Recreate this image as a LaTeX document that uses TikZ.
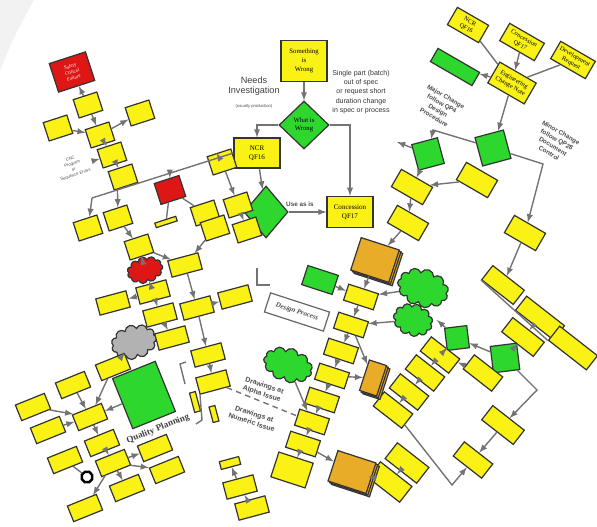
\documentclass[tikz,border=0pt]{standalone}
\usepackage{fontspec}
\setmainfont{Liberation Serif}
\setsansfont{Liberation Sans}
\usetikzlibrary{arrows,positioning,calc,shapes.geometric,shapes.symbols,shadows}
\definecolor{flowYellow}{RGB}{250,242,20}
\definecolor{flowGreen}{RGB}{45,215,45}
\definecolor{flowRed}{RGB}{222,22,22}
\definecolor{flowOrange}{RGB}{232,172,40}

\begin{document}
\begin{tikzpicture}[x=0.025cm, y=-0.025cm,
        every node/.style={align=center, line width=0.15mm},
        yBox/.style={
                draw=black!80, fill=flowYellow, line width=0.3mm,
                minimum width=0.9cm, minimum height=0.5cm,
                inner sep=0.5pt, font=\fontsize{4.5}{5.5}\selectfont
            },
        smallBox/.style={yBox, minimum width=0.62cm, minimum height=0.48cm},
        flatBox/.style={yBox, minimum width=0.78cm, minimum height=0.42cm},
        gBox/.style={yBox, fill=flowGreen},
        rBox/.style={yBox, fill=flowRed, text=white, minimum width=0.95cm, minimum height=0.75cm},
        oBox/.style={yBox, fill=flowOrange,
                double copy shadow={shadow xshift=1.2pt, shadow yshift=-1.2pt}},
        wBox/.style={draw=black!60, fill=white, line width=0.3mm,
                minimum width=1.55cm, minimum height=0.5cm,
                font=\bfseries\itshape\fontsize{5}{6}\selectfont, text=black!70},
        gDiamond/.style={
                draw=black!80, fill=flowGreen, shape=diamond, line width=0.3mm,
                inner sep=0pt, minimum width=0.9cm, minimum height=0.9cm,
                font=\fontsize{4.5}{5.5}\selectfont
            },
        puff/.style={draw=black!80, fill=flowGreen, shape=cloud, cloud puffs=11, aspect=1.6,
                line width=0.3mm, minimum width=1.2cm, minimum height=0.85cm},
        conn/.style={draw=black!55, line width=0.35mm, -latex},
        wire/.style={draw=black!55, line width=0.35mm},
        note/.style={font=\sffamily\bfseries\fontsize{4.5}{5.6}\selectfont, text=black!70}
    ]
    \useasboundingbox (0,0) rectangle (597,526);
    \fill[black!5] (0,0) -- (34,0) .. controls (20,25) and (8,48) .. (0,72) -- cycle;

    % Something is wrong
    \node[yBox, font=\fontsize{4.8}{6.5}\selectfont, minimum width=1.15cm, minimum height=1.02cm] (wrong) at (304,61) {Something\\is\\Wrong};
    \node[gDiamond, minimum width=1.25cm, minimum height=1.2cm, font=\fontsize{4.8}{6}\selectfont] (what) at (304,125) {What is\\Wrong};
    \node[yBox, font=\fontsize{5}{6.5}\selectfont, minimum width=1.15cm, minimum height=0.75cm] (ncrA) at (257,153) {NCR\\QF16};
    \node[yBox, font=\fontsize{5}{6.5}\selectfont, minimum width=1.15cm, minimum height=0.78cm] (conc) at (350,212) {Concession\\QF17};
    \node[font=\sffamily\fontsize{6.5}{7.5}\selectfont, text=black!75] (needs) at (254,86) {Needs\\Investigation};
    \node[font=\sffamily\fontsize{3}{3.5}\selectfont, text=black!70] (usual) at (254,106) {(usually production)};
    \node[font=\sffamily\fontsize{5}{6.6}\selectfont, text=black!80] (single) at (361,92) {Single part (batch)\\out of spec\\or request short\\duration change\\in spec or process};
    \node[gDiamond, minimum width=1.1cm, minimum height=1.3cm] (useD) at (266,212) {};

    \draw[conn] (wrong) -- (what);
    \draw[conn] (what.west) -| (ncrA.north);
    \draw[conn] (what.east) -| (conc.north);
    \draw[conn] (ncrA) -- (useD);
    \draw[conn] (useD.east) -- node[note, above, pos=0.3] {Use as is} (conc.west);

    % Top right: change requests
    \begin{scope}[every node/.append style={rotate=-30}]
        \node[yBox, minimum width=0.9cm] (ncrB) at (468,25) {NCR\\QF16};
        \node[yBox, minimum width=1.0cm] (concB) at (522,42) {Concession\\QF17};
        \node[yBox, minimum width=1.0cm] (devReq) at (573,60) {Development\\Request};
        \node[gBox, minimum width=1.2cm, minimum height=0.38cm] (logS) at (455,67) {};
        \node[yBox, minimum width=1.05cm, minimum height=0.6cm] (ecn) at (512,83) {Engineering\\Change Note};
        \node[gDiamond, minimum width=1.05cm, minimum height=1.05cm] (testD) at (493,148) {};
        \node[gDiamond, minimum width=0.95cm, minimum height=0.95cm] (leftD) at (428,154) {};
        \node[yBox] (dPlan) at (412,187) {};
        \node[yBox] (jobN) at (477,180) {};
        \node[yBox] (devl) at (408,223) {};
        \node[yBox] (upd) at (525,233) {};
        \node[note] (major) at (440,107) {Major Change\\follow QP4\\Design\\Procedure};
        \node[note] (minor) at (555,143) {Minor Change\\follow QP28\\Document\\Control};
    \end{scope}
    \coordinate (kneeT) at (433,130);
    \coordinate (outL) at (397,142);
    \coordinate (kneeR) at (543,164);
    \draw[wire] (ncrB) -- (ecn);
    \draw[wire] (devReq) -- (ecn);
    \draw[conn] (concB) -- (ecn);
    \draw[conn] (ecn) -- (logS);
    \draw[conn] (ecn) -- (testD);
    \draw[conn] (testD) -- (kneeT) -- (leftD);
    \draw[conn] (leftD) -- (outL);
    \draw[conn] (leftD) -- (dPlan);
    \draw[conn] (jobN) -- (dPlan);
    \draw[conn] (dPlan) -- (devl);
    \draw[conn] (testD) -- (kneeR) -- (upd);

    % Right: document control branch
    \begin{scope}[every node/.append style={rotate=-38}]
        \node[yBox, minimum width=1.0cm, minimum height=0.45cm] (s1) at (503,285) {};
        \node[yBox, minimum width=1.2cm, minimum height=0.45cm] (s2) at (540,318) {};
        \node[yBox, minimum width=1.0cm, minimum height=0.45cm] (s3) at (523,337) {};
        \node[yBox, minimum width=1.2cm, minimum height=0.45cm] (s4) at (573,348) {};
        \node[gDiamond, minimum width=0.95cm, minimum height=0.95cm] (dR) at (505,358) {};
        \node[gDiamond, minimum width=0.8cm, minimum height=0.8cm] (dL) at (457,338) {};
        \node[yBox, minimum width=0.9cm, minimum height=0.45cm] (s5) at (483,373) {};
        \node[yBox, minimum width=0.9cm, minimum height=0.45cm] (r1) at (440,355) {};
        \node[yBox, minimum width=0.9cm, minimum height=0.45cm] (r2) at (425,373) {};
        \node[yBox, minimum width=0.9cm, minimum height=0.45cm] (r3) at (409,392) {};
        \node[yBox, minimum width=0.9cm, minimum height=0.45cm] (r4) at (393,410) {};
        \node[yBox, minimum width=1.0cm, minimum height=0.45cm] (s6) at (503,425) {};
        \node[yBox, minimum width=0.9cm, minimum height=0.45cm] (s7) at (473,460) {};
        \node[yBox, minimum width=1.0cm, minimum height=0.5cm] (r5) at (407,463) {};
        \node[yBox, minimum width=1.0cm, minimum height=0.5cm] (r6) at (390,482) {};
    \end{scope}
    \coordinate (outD) at (437,320);
    \coordinate (kneeS) at (537,390);
    \coordinate (kneeB) at (452,485);
    \draw[conn] (upd) -- (s1);
    \draw[wire] (s1.south west) -- (s4.south west);
    \draw[conn] (s2) -- (s3);
    \draw[conn] (s3) -- (dR);
    \draw[conn] (dR) -- (dL);
    \draw[conn] (dL) -- (outD);
    \draw[conn] (dL) -- (r1);
    \draw[conn] (s5) -- (r1);
    \draw[conn] (r1) -- (r2);
    \draw[conn] (r2) -- (r3);
    \draw[conn] (r3) -- (r4);
    \draw[conn] (dR) -- (kneeS) -- (s6);
    \draw[conn] (s6) -- (s7);
    \draw[conn] (r4) -- (kneeB) -- (s7);
    \draw[conn] (r5) -- (r6);

    % Middle: design process
    \begin{scope}[every node/.append style={rotate=-18}]
        \node[oBox, minimum width=1.0cm, minimum height=0.85cm] (books1) at (375,260) {};
        \node[gBox, minimum width=0.8cm] (gm1) at (320,280) {};
        \node[wBox] (dProc) at (297,312) {Design Process};
        \node[flatBox] (n1) at (361,297) {};
        \node[puff, minimum width=1.3cm, minimum height=0.95cm] (gc1) at (423,288) {};
        \node[puff, minimum width=1.0cm, minimum height=0.8cm] (gc2) at (413,320) {};
        \node[flatBox] (n2) at (351,325) {};
        \node[flatBox] (n3) at (341,351) {};
        \node[puff, minimum width=1.25cm, minimum height=0.85cm] (gc3) at (288,365) {};
        \node[flatBox] (n4) at (332,376) {};
        \node[oBox, minimum width=0.45cm, minimum height=0.8cm] (books2) at (373,378) {};
        \node[flatBox] (n5) at (322,400) {};
        \node[flatBox] (n6) at (312,422) {};
        \node[flatBox] (n7) at (303,444) {};
        \node[flatBox, minimum width=0.9cm, minimum height=0.65cm] (n8) at (292,470) {};
        \node[oBox, minimum width=1.0cm, minimum height=0.8cm] (books3) at (352,472) {};
        \node[note, font=\sffamily\bfseries\fontsize{5}{6.2}\selectfont] (alpha) at (263,390) {Drawings at\\Alpha Issue};
        \node[note, font=\sffamily\bfseries\fontsize{5}{6.2}\selectfont] (numeric) at (253,418) {Drawings at\\Numeric Issue};
    \end{scope}
    \draw[wire] (257,268) -- (257,285) -- (270,285);
    \draw[conn] (devl) -- (books1);
    \draw[conn] (books1) -- (n1);
    \draw[conn] (gm1) -- (n1);
    \draw[conn] (gc1) -- (n1);
    \draw[conn] (gc2) -- (n2);
    \draw[conn] (n1) -- (n2);
    \draw[conn] (n2) -- (n3);
    \draw[conn] (n3) -- (n4);
    \draw[conn] (n4) -- (n5);
    \draw[conn] (n5) -- (n6);
    \draw[conn] (n6) -- (n7);
    \draw[conn] (n7) -- (n8);
    \draw[conn] (n2) -- (books2);
    \draw[conn] (n4) -- (books2);
    \draw[conn] (gc3) -- (n6);
    \draw[conn] (n7) -- (books3);
    \draw[conn] (books3) -- (r6);

    % Left: safety critical branch
    \begin{scope}[every node/.append style={rotate=18}]
        \node[rBox, font=\fontsize{3.5}{4.2}\selectfont] (safety) at (72,72) {Safety\\Critical\\Failure};
        \node[smallBox] (l1) at (88,105) {};
        \node[smallBox] (l2) at (58,128) {};
        \node[smallBox] (l3) at (100,135) {};
        \node[smallBox] (l4) at (140,113) {};
        \node[note, font=\sffamily\fontsize{3}{4}\selectfont] (cnc) at (73,167) {CNC\\Program\\or\\Sequence Errors};
        \node[smallBox] (l5) at (112,155) {};
        \node[smallBox] (l6) at (123,177) {};
        \node[smallBox] (l7) at (88,228) {};
        \node[smallBox] (l8) at (118,218) {};
        \node[smallBox] (l9) at (139,247) {};
        \node[rBox, minimum width=0.65cm, minimum height=0.55cm] (redB) at (170,190) {};
        \node[smallBox] (l10) at (205,213) {};
        \node[smallBox] (l11) at (215,228) {};
        \node[smallBox] (l12) at (222,162) {};
        \node[smallBox] (l13) at (238,205) {};
        \node[smallBox] (l14) at (247,230) {};
        \node[yBox, minimum width=0.55cm, minimum height=0.12cm] (sliver) at (166,222) {};
    \end{scope}
    \coordinate (barL) at (92,198);
    \draw[wire] (barL) -- (ncrA.west);
    \draw[conn] (l1) -- (safety);
    \draw[conn] (l1) -- (l3);
    \draw[conn] (l2) -- (l3);
    \draw[conn] (l3) -- (l4);
    \draw[conn] (l3) -- (l5);
    \draw[conn] (cnc) -- (l5);
    \draw[conn] (l5) -- (l6);
    \draw[wire] (l6) -- ($(barL)!0.22!(ncrA.west)$);
    \draw[conn] (barL) -- (l7);
    \draw[conn] ($(barL)!0.18!(ncrA.west)$) -- (l8);
    \draw[conn] ($(barL)!0.55!(ncrA.west)$) -- (redB);
    \draw[conn] ($(barL)!0.9!(ncrA.west)$) -- (l12);
    \draw[wire] (redB) -- (sliver);
    \draw[wire] (redB) -- (l10);
    \draw[conn] (l12) -- (l13);
    \draw[conn] (l13) -- (l14);
    \draw[conn] (l8) -- (l9);

    % Lower left: production and quality planning
    \begin{scope}[every node/.append style={rotate=15}]
        \node[puff, fill=flowRed, minimum width=0.9cm, minimum height=0.65cm] (redCloud) at (145,270) {};
        \node[flatBox] (l15) at (185,265) {};
        \node[flatBox] (m1) at (153,292) {};
        \node[flatBox] (m2) at (113,303) {};
        \node[flatBox] (m3) at (160,315) {};
        \node[flatBox] (m4) at (197,308) {};
        \node[flatBox] (m5) at (235,297) {};
        \node[puff, fill=black!30, minimum width=1.15cm, minimum height=0.85cm] (grayCloud) at (134,342) {};
        \node[flatBox] (m6) at (172,338) {};
        \node[flatBox] (m7) at (208,355) {};
        \node[flatBox] (m8) at (213,382) {};
        \node[yBox, minimum width=0.15cm, minimum height=0.5cm] (bit1) at (195,402) {};
        \node[yBox, minimum width=0.15cm, minimum height=0.4cm] (bit2) at (214,414) {};
        \node[yBox, minimum width=0.5cm, minimum height=0.2cm] (tri) at (230,463) {};
        \node[flatBox] (q12) at (240,487) {};
        \node[flatBox] (q13) at (252,508) {};
    \end{scope}
    \draw[wire] (186,362) -- (180,364) -- (185,384);
    \draw[wire] (200,395) -- (202,420) -- (196,424);
    \draw[conn] (l9) -- (redCloud);
    \draw[conn] (l11) -- (l15);
    \draw[conn] (l9) -- (l15);
    \draw[conn] (m1) -- (redCloud);
    \draw[conn] (m1) -- (m2);
    \draw[conn] (m1) -- (m3);
    \draw[conn] (l15) -- (m4);
    \draw[conn] (m4) -- (m5);
    \draw[conn] (m4) -- (m7);
    \draw[conn] (m7) -- (m8);
    \draw[conn] (m3) -- (m6);
    \draw[conn] (q12) -- (tri);
    \draw[conn] (q13) -- (q12);
    \draw[wire, dashed, dash pattern=on 4pt off 3pt] (m8) -- (n6);

    \begin{scope}[every node/.append style={rotate=22}]
        \node[flatBox] (m9) at (113,367) {};
        \node[gBox, minimum width=1.15cm, minimum height=1.35cm] (qpG) at (144,395) {};
        \node[font=\bfseries\fontsize{6.5}{7.5}\selectfont, text=black!75] (qpText) at (158,429) {Quality Planning};
        \node[flatBox] (q1) at (73,385) {};
        \node[flatBox] (q2) at (33,407) {};
        \node[flatBox] (q3) at (90,417) {};
        \node[flatBox] (q4) at (48,430) {};
        \node[flatBox] (q5) at (102,443) {};
        \node[flatBox] (q6) at (65,460) {};
        \node[flatBox] (q7) at (113,463) {};
        \node[flatBox] (q8) at (155,448) {};
        \node[flatBox] (q9) at (167,470) {};
        \node[flatBox] (q10) at (127,488) {};
        \node[flatBox] (q11) at (85,508) {};
        \node[draw, circle, line width=0.6mm, minimum size=0.28cm, inner sep=0pt] (recyc) at (87,477) {};
    \end{scope}
    \draw[conn] (grayCloud) -- (m9);
    \draw[conn] (m9) -- (q3);
    \draw[conn] (q1) -- (q3);
    \draw[conn] (q2) -- (q3);
    \draw[conn] (q4) -- (q3);
    \draw[conn] (qpG) -- (q3);
    \draw[conn] (q3) -- (q5);
    \draw[conn] (q5) -- (q7);
    \draw[wire] (q6) -- (recyc);
    \draw[conn] (q7) -- (q8);
    \draw[conn] (q7) -- (q9);
    \draw[conn] (q7) -- (q10);
    \draw[conn] (q7) -- (q11);
\end{tikzpicture}
\end{document}
